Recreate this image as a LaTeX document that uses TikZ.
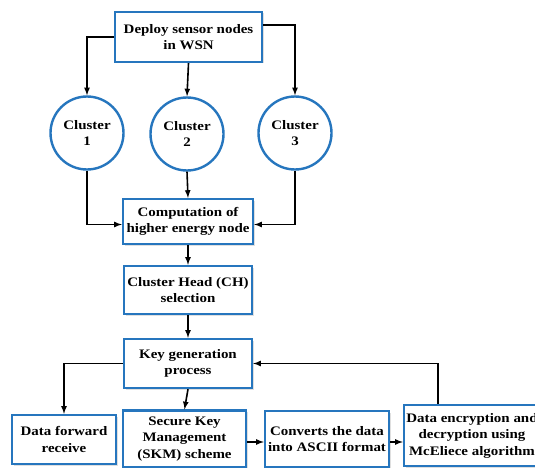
\documentclass[tikz,border=0pt]{standalone}
\usepackage{fontspec}
\setmainfont{Liberation Serif}[FakeStretch=1.15]
\usepackage{tikz}
\usetikzlibrary{arrows}
\usetikzlibrary{shapes.geometric, positioning, calc, shadows}
\usepackage{xcolor}
\definecolor{boxblue}{RGB}{38,118,190}

\tikzset{
  stage/.style={draw=boxblue, line width=2.4pt, fill=white, align=center, inner sep=1pt,
    font=\fontsize{13}{16.5}\selectfont\bfseries,
    drop shadow={opacity=0.25, shadow xshift=1.5pt, shadow yshift=-1.5pt}},
  clust/.style={circle, draw=boxblue, line width=2.4pt, fill=white, align=center, inner sep=0pt,
    minimum size=73pt, font=\fontsize{13}{16.5}\selectfont\bfseries},
  flow/.style={-latex, line width=1.6pt, black}
}

\begin{document}
\begin{tikzpicture}[x=1pt, y=-1pt]
      \useasboundingbox (0, 0) rectangle (535, 468);

      \node[stage, minimum width=147pt, minimum height=50pt] (deploy) at (188.5, 37) {Deploy sensor nodes\\in WSN};

      \node[clust] (c1) at (87, 133) {Cluster\\1};
      \node[clust] (c2) at (187, 134) {Cluster\\2};
      \node[clust] (c3) at (295, 133) {Cluster\\3};

      \node[stage, minimum width=130pt, minimum height=45pt] (comp) at (188, 221.5) {Computation of\\higher energy node};
      \node[stage, minimum width=128pt, minimum height=48pt] (ch) at (188, 290) {Cluster Head (CH)\\selection};
      \node[stage, minimum width=128pt, minimum height=49pt] (key) at (188, 363.5) {Key generation\\process};

      \node[stage, minimum width=104pt, minimum height=49pt] (fwd) at (64, 439.5) {Data forward\\receive};
      \node[stage, minimum width=123pt, minimum height=57pt] (skm) at (184.5, 439) {Secure Key\\Management\\(SKM) scheme};
      \node[stage, minimum width=124pt, minimum height=56pt] (conv) at (327, 439) {Converts the data\\into ASCII format};
      \node[stage, minimum width=136pt, minimum height=61pt] (enc) at (472, 435.5) {Data encryption and\\decryption using\\McEliece algorithm};

      \coordinate (skmout) at ([yshift=-3pt]skm.east);
      \coordinate (convout) at ([yshift=-3pt]conv.east);

      % deploy to clusters
      \draw[flow] (deploy.west) -| (c1.north);
      \draw[flow] (deploy.south) -- (c2.north);
      \draw[flow] ([yshift=12pt]deploy.east) -| (c3.north);

      % clusters to computation
      \draw[flow] (c1.south) |- ([yshift=-3pt]comp.west);
      \draw[flow] (c2.south) -- (comp.north);
      \draw[flow] (c3.south) |- ([yshift=-3pt]comp.east);

      \draw[flow] (comp.south) -- (ch.north);
      \draw[flow] (ch.south) -- (key.north);

      \draw[flow] (key.west) -| (fwd.north);
      \draw[flow] (key.south) -- (skm.north);
      \draw[flow] (skmout) -- (skmout -| conv.west);
      \draw[flow] (convout) -- (convout -| enc.west);
      \draw[flow] ([xshift=-34pt]enc.north) |- (key.east);

\end{tikzpicture}
\end{document}
